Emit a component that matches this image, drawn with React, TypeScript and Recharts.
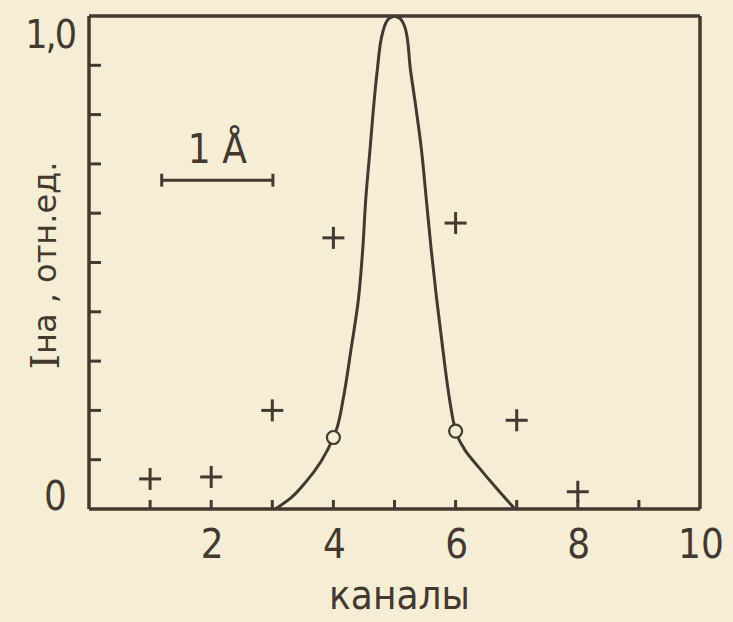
import {
  ComposedChart,
  Line,
  Scatter,
  XAxis,
  YAxis,
  ReferenceLine,
  Label,
} from "recharts";

// measured points (crosses)
const crossX = [1, 2, 3, 4, 6, 7, 8];
const crossY = [0.061, 0.065, 0.2, 0.55, 0.58, 0.18, 0.035];

// open circles on the curve
const circleX = [4, 6];
const circleY = [0.145, 0.158];

// fitted profile; rising flank and falling flank (both listed bottom -> top)
const leftX = [3.05, 3.3, 3.55, 3.8, 4.0, 4.06, 4.16, 4.29, 4.41, 4.48, 4.53, 4.6, 4.67, 4.72, 4.81, 4.9, 5.0];
const leftY = [0, 0.022, 0.055, 0.097, 0.145, 0.165, 0.223, 0.325, 0.426, 0.527, 0.629, 0.73, 0.832, 0.892, 0.968, 0.994, 1.0];
const rightX = [6.97, 6.67, 6.39, 6.15, 6.0, 5.96, 5.9, 5.79, 5.69, 5.6, 5.52, 5.44, 5.33, 5.26, 5.19, 5.1, 5.0];
const rightY = [0, 0.042, 0.083, 0.12, 0.158, 0.18, 0.223, 0.325, 0.426, 0.527, 0.629, 0.73, 0.832, 0.892, 0.968, 0.994, 1.0];

const xTicks = [1, 2, 3, 4, 5, 6, 7, 8, 9, 10];
const xTickLabels = [2, 4, 6, 8, 10];
const yTicks = [0, 0.1, 0.2, 0.3, 0.4, 0.5, 0.6, 0.7, 0.8, 0.9, 1];

const INK = "#45382e";
const PAPER = "#f5eed5";
const COND = "'DejaVu Sans Condensed', 'DejaVu Sans', sans-serif";

const crosses = crossX.map((x, i) => ({ x, y: crossY[i] }));
const circles = circleX.map((x, i) => ({ x, y: circleY[i] }));
const leftFlank = leftX.map((x, i) => ({ x, y: leftY[i] }));
const rightFlank = rightX.map((x, i) => ({ x, y: rightY[i] }));

const XTick = ({ x, y, payload }: any) => {
  const v = payload.value;
  return (
    <g>
      {v < 10 && <line x1={x} y1={y} x2={x} y2={y - 9} stroke={INK} strokeWidth={3} />}
      {xTickLabels.includes(v) && (
        <text x={x + 1} y={y + 49} textAnchor="middle" fill={INK} fontSize={40} fontFamily={COND}>
          {v}
        </text>
      )}
    </g>
  );
};

const YTick = ({ x, y, payload }: any) => {
  const v = payload.value;
  if (v === 0) {
    return (
      <text x={x - 22} y={y + 1} textAnchor="end" fill={INK} fontSize={40} fontFamily={COND}>
        0
      </text>
    );
  }
  if (v === 1) {
    return (
      <text x={x - 14} y={y + 32} textAnchor="end" fill={INK} fontSize={39} fontFamily={COND} letterSpacing={-2}>
        1,0
      </text>
    );
  }
  return <line x1={x} y1={y} x2={x + 12} y2={y} stroke={INK} strokeWidth={3} />;
};

const YLabel = ({ viewBox }: any) => {
  const cx = 45;
  const cy = viewBox.y + viewBox.height / 2 + 3;
  return (
    <text
      x={cx}
      y={cy}
      transform={`rotate(-90 ${cx} ${cy})`}
      textAnchor="middle"
      dominantBaseline="central"
      fill={INK}
      fontSize={32}
      fontFamily="'DejaVu Sans', sans-serif"
    >
      <tspan fontFamily="'DejaVu Serif', serif" fontSize={39}>I</tspan>
      <tspan>на , отн.ед.</tspan>
    </text>
  );
};

const Cross = ({ cx, cy }: any) => (
  <g stroke={INK} strokeWidth={3}>
    <line x1={cx - 11} y1={cy} x2={cx + 11} y2={cy} />
    <line x1={cx} y1={cy - 11} x2={cx} y2={cy + 11} />
  </g>
);

const Circle = ({ cx, cy }: any) => (
  <circle cx={cx} cy={cy} r={6.5} fill={PAPER} stroke={INK} strokeWidth={2.2} />
);

export default function App() {
  return (
    <div style={{ position: "absolute", left: 0, top: 0, width: 733, height: 622, background: PAPER }}>
      <ComposedChart width={733} height={622} margin={{ top: 16, right: 33, left: 0, bottom: 0 }}>
        <XAxis
          dataKey="x"
          type="number"
          domain={[0, 10]}
          ticks={xTicks}
          interval={0}
          height={113}
          tickSize={0}
          tickMargin={0}
          tickLine={false}
          tick={<XTick />}
          axisLine={{ stroke: INK, strokeWidth: 3.5 }}
        >
          <Label
            value="каналы"
            position="insideBottom"
            offset={13}
            dx={5}
            fill={INK}
            fontSize={40}
            fontFamily={COND}
          />
        </XAxis>
        <YAxis
          dataKey="y"
          type="number"
          domain={[0, 1]}
          ticks={yTicks}
          interval={0}
          width={89}
          tickSize={0}
          tickMargin={0}
          tickLine={false}
          tick={<YTick />}
          axisLine={{ stroke: INK, strokeWidth: 3.5 }}
        >
          <Label content={<YLabel />} />
        </YAxis>
        <ReferenceLine y={1} stroke={INK} strokeWidth={3.5} />
        <ReferenceLine x={10} stroke={INK} strokeWidth={3.5} />
        <ReferenceLine
          segment={[{ x: 1.19, y: 0.667 }, { x: 3.01, y: 0.667 }]}
          stroke={INK}
          strokeWidth={3}
        >
          <Label value="1 Å" position="top" offset={17} fill={INK} fontSize={40} fontFamily={COND} />
        </ReferenceLine>
        <ReferenceLine segment={[{ x: 1.19, y: 0.654 }, { x: 1.19, y: 0.68 }]} stroke={INK} strokeWidth={3} />
        <ReferenceLine segment={[{ x: 3.01, y: 0.654 }, { x: 3.01, y: 0.68 }]} stroke={INK} strokeWidth={3} />
        <Line
          data={leftFlank}
          dataKey="y"
          type="monotoneY"
          stroke={INK}
          strokeWidth={3}
          dot={false}
          activeDot={false}
          isAnimationActive={false}
        />
        <Line
          data={rightFlank}
          dataKey="y"
          type="monotoneY"
          stroke={INK}
          strokeWidth={3}
          dot={false}
          activeDot={false}
          isAnimationActive={false}
        />
        <Scatter data={crosses} dataKey="y" shape={<Cross />} isAnimationActive={false} />
        <Scatter data={circles} dataKey="y" shape={<Circle />} isAnimationActive={false} />
      </ComposedChart>
    </div>
  );
}
